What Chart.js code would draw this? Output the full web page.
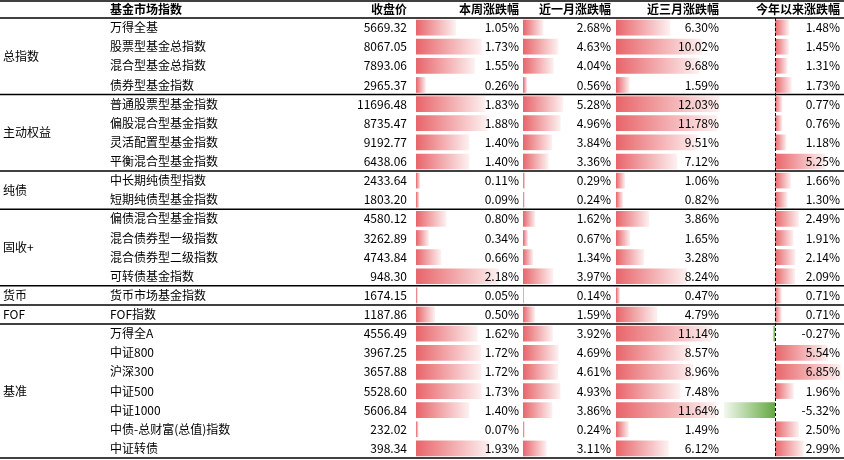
<!DOCTYPE html>
<html><head><meta charset="utf-8">
<script src="https://cdn.jsdelivr.net/npm/chart.js@4/dist/chart.umd.min.js"></script>
<style>html,body{margin:0;padding:0;background:#fff}#w{width:844px;height:460px}</style>
</head><body><div id="w"><canvas id="c"></canvas></div>
<script>
const groups = ['总指数','主动权益','纯债','固收+','货币','FOF','基准'];
const groupSizes = [4,4,2,4,1,1,7];
const names = ['万得全基','股票型基金总指数','混合型基金总指数','债券型基金指数','普通股票型基金指数','偏股混合型基金指数','灵活配置型基金指数','平衡混合型基金指数','中长期纯债型指数','短期纯债型基金指数','偏债混合型基金指数','混合债券型一级指数','混合债券型二级指数','可转债基金指数','货币市场基金指数','FOF指数','万得全A','中证800','沪深300','中证500','中证1000','中债-总财富(总值)指数','中证转债'];
const closes = ['5669.32','8067.05','7893.06','2965.37','11696.48','8735.47','9192.77','6438.06','2433.64','1803.20','4580.12','3262.89','4743.84','948.30','1674.15','1187.86','4556.49','3967.25','3657.88','5528.60','5606.84','232.02','398.34'];
const week = [1.05,1.73,1.55,0.26,1.83,1.88,1.40,1.40,0.11,0.09,0.80,0.34,0.66,2.18,0.05,0.50,1.62,1.72,1.72,1.73,1.40,0.07,1.93];
const month = [2.68,4.63,4.04,0.56,5.28,4.96,3.84,3.36,0.29,0.24,1.62,0.67,1.34,3.97,0.14,1.59,3.92,4.69,4.61,4.93,3.86,0.24,3.11];
const month3 = [6.30,10.02,9.68,1.59,12.03,11.78,9.51,7.12,1.06,0.82,3.86,1.65,3.28,8.24,0.47,4.79,11.14,8.57,8.96,7.48,11.64,1.49,6.12];
const ytd = [1.48,1.45,1.31,1.73,0.77,0.76,1.18,5.25,1.66,1.30,2.49,1.91,2.14,2.09,0.71,0.71,-0.27,5.54,6.85,1.96,-5.32,2.50,2.99];
const headers = ['基金市场指数','收盘价','本周涨跌幅','近一月涨跌幅','近三月涨跌幅','今年以来涨跌幅'];

const cols = [
  {vals:week, start:416, k:38, right:519},
  {vals:month, start:523, k:7.6, right:611},
  {vals:month3, start:616, k:8.6, right:719},
  {vals:ytd, start:775, k:9.6, right:840}
];
const datasets = cols.map(c => ({
  data: c.vals.map(v => v >= 0 ? [c.start, c.start + v*c.k] : [c.start + v*c.k, c.start]),
  backgroundColor: (ctx) => {
    const raw = ctx.raw; if (!raw) return '#e96a6d';
    const xs = ctx.chart.scales.x; const v = c.vals[ctx.dataIndex];
    const a = xs.getPixelForValue(raw[0]), b = xs.getPixelForValue(raw[1]);
    if (!isFinite(a) || !isFinite(b) || a === b) return '#e96a6d';
    const g = ctx.chart.ctx.createLinearGradient(a,0,b,0);
    if (v >= 0) { g.addColorStop(0,'#e8656a'); g.addColorStop(1,'#fdf1f1'); }
    else { g.addColorStop(0,'#f3f8ef'); g.addColorStop(1,'#63a93f'); }
    return g;
  },
  borderWidth: 0, barPercentage: 0.82, categoryPercentage: 1, grouped: false
}));

const tablePlugin = {
  id:'table',
  afterDraw(chart){
    const ctx = chart.ctx, ys = chart.scales.y;
    const rowH = ys.getPixelForValue(1) - ys.getPixelForValue(0);
    const top = ys.getPixelForValue(0) - rowH/2;
    const font = '12px "Noto Sans CJK SC", sans-serif';
    ctx.save();
    ctx.fillStyle = '#000'; ctx.textBaseline = 'middle';
    ctx.font = 'bold 12px "Noto Sans CJK SC", sans-serif';
    const hy = top/2;
    ctx.textAlign='left'; ctx.fillText(headers[0],110,hy);
    ctx.textAlign='right';
    ctx.fillText(headers[1],407,hy);
    cols.forEach((c,i)=>ctx.fillText(headers[i+2],c.right,hy));
    ctx.font = font;
    names.forEach((n,i)=>{
      const y = ys.getPixelForValue(i);
      ctx.textAlign='left'; ctx.fillText(n,110,y);
      ctx.textAlign='right'; ctx.fillText(closes[i],407,y);
      cols.forEach(c=>ctx.fillText(c.vals[i].toFixed(2)+'%',c.right,y));
    });
    ctx.strokeStyle='#000'; ctx.lineWidth=1.5;
    const hline = y => { ctx.beginPath(); ctx.moveTo(0,y); ctx.lineTo(844,y); ctx.stroke(); };
    hline(1); hline(top);
    let idx = 0;
    groups.forEach((g,gi)=>{
      const s = groupSizes[gi];
      const cy = ys.getPixelForValue(idx) - rowH/2 + s*rowH/2;
      ctx.textAlign='left'; ctx.fillText(g,3,cy);
      idx += s;
      hline(ys.getPixelForValue(idx-1)+rowH/2);
    });
    ctx.lineWidth=1; ctx.setLineDash([3,2]);
    const zx = chart.scales.x.getPixelForValue(775)+0.5;
    ctx.beginPath(); ctx.moveTo(zx,top); ctx.lineTo(zx,ys.getPixelForValue(names.length-1)+rowH/2); ctx.stroke();
    ctx.restore();
  }
};

new Chart(document.getElementById('c'), {
  type:'bar',
  data:{ labels: names, datasets },
  options:{
    indexAxis:'y', responsive:true, maintainAspectRatio:false, animation:false,
    layout:{padding:{top:18,bottom:2,left:0,right:0}},
    plugins:{legend:{display:false}, tooltip:{enabled:false}},
    scales:{
      x:{type:'linear', min:0, max:844, display:false, grid:{display:false}},
      y:{type:'category', display:false, offset:true, grid:{display:false}}
    }
  },
  plugins:[tablePlugin]
});
</script></body></html>
